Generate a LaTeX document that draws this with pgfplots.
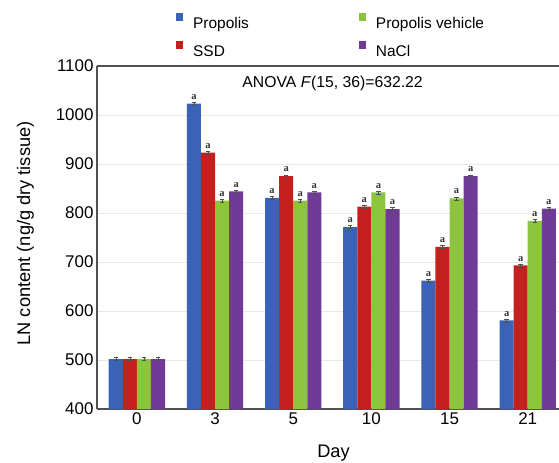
\documentclass[border=0pt]{standalone}
\usepackage{fontspec}
\setmainfont{Liberation Sans}
\newfontfamily\serifbold{Liberation Serif}
\usepackage{pgfplots}
\usepackage{pgfplotstable}
\pgfplotsset{compat=1.18}
\definecolor{cblue}{HTML}{3A63B8}
\definecolor{cred}{HTML}{C4201E}
\definecolor{cgreen}{HTML}{8CC43C}
\definecolor{cpurple}{HTML}{6F3B96}
\definecolor{axisgray}{HTML}{505050}

\pgfplotstableread[col sep=comma,row sep=\\]{
x,y,e,m\\
0,502,3,\\
1,1023,3,a\\
2,831,3,a\\
3,771,3,a\\
4,662,3,a\\
5,581,3,a\\
}\propolis
\pgfplotstableread[col sep=comma,row sep=\\]{
x,y,e,m\\
0,502,3,\\
1,923,3,a\\
2,875,3,a\\
3,813,3,a\\
4,731,3,a\\
5,693,3,a\\
}\ssd
\pgfplotstableread[col sep=comma,row sep=\\]{
x,y,e,m\\
0,502,3,\\
1,825,3,a\\
2,825,3,a\\
3,842,3,a\\
4,830,3,a\\
5,784,3,a\\
}\vehicle
\pgfplotstableread[col sep=comma,row sep=\\]{
x,y,e,m\\
0,502,3,\\
1,844,3,a\\
2,842,3,a\\
3,808,3,a\\
4,875,3,a\\
5,809,3,a\\
}\nacl

\begin{document}
\begin{tikzpicture}
\begin{axis}[
  scale only axis,
  width=462bp, height=343bp,
  xmin=-0.51, xmax=5.4,
  ymin=400, ymax=1100,
  ytick={400,500,...,1100},
  xtick={0,1,2,3,4,5},
  xticklabels={0,3,5,10,15,21},
  major tick length=0pt,
  axis x line=box,
  axis y line=left,
  axis line style={axisgray, line width=1.3bp, -},
  ymajorgrids,
  grid style={gray!18, line width=0.8bp},
  ybar=0pt,
  bar width=0.18,
  /pgf/number format/.cd, 1000 sep={}, assume math mode=true,
  /pgfplots/.cd,
  ticklabel style={font=\fontsize{17}{20}\selectfont},
  label style={font=\fontsize{18.3}{22}\selectfont},
  xlabel={Day},
  ylabel={LN content (ng/g dry tissue)},
  xlabel style={at={(axis description cs:0.512,-0.142)}, anchor=base},
  ylabel style={at={(axis description cs:-0.145,0.512)}, anchor=base, rotate=0},
  legend style={
    at={(axis description cs:0,1)}, anchor=north west,
    xshift=79bp, yshift=53bp,
    draw=none, fill=none,
    font=\fontsize{15.5}{18}\selectfont,
    inner sep=0pt,
    row sep=9bp,
    /tikz/every even column/.append style={column sep=108bp},
  },
  legend columns=2,
  transpose legend,
  legend cell align=left,
  legend image code/.code={\fill[#1] (0bp,2.5bp) rectangle (7bp,10.5bp); \path (15bp,5bp);},
  error bars/y dir=both,
  error bars/y explicit,
  error bars/error bar style={axisgray, line width=0.5bp},
  error bars/error mark options={rotate=90, mark size=2.2bp, axisgray, line width=0.5bp},
  point meta=explicit symbolic,
  nodes near coords,
  nodes near coords style={anchor=south, inner sep=0pt, yshift=4bp, font=\serifbold\bfseries\fontsize{10.5}{11}\selectfont, text=black!80},
  clip=false,
]
\addplot[fill=cblue, draw=none] table[x=x, y=y, y error=e, meta=m] {\propolis};
\addlegendentry{Propolis}
\addplot[fill=cred, draw=none] table[x=x, y=y, y error=e, meta=m] {\ssd};
\addlegendentry{SSD}
\addplot[fill=cgreen, draw=none] table[x=x, y=y, y error=e, meta=m] {\vehicle};
\addlegendentry{Propolis vehicle}
\addplot[fill=cpurple, draw=none] table[x=x, y=y, y error=e, meta=m] {\nacl};
\addlegendentry{NaCl}
\node[font=\fontsize{15.8}{19}\selectfont, anchor=center] at (axis description cs:0.51,0.950) {ANOVA \textit{F}(15, 36)=632.22};
\end{axis}
\pgfresetboundingbox
\path (current axis.south west) ++(-97bp,-54bp) coordinate (bbsw);
\path (current axis.north east) ++(0bp,66bp) coordinate (bbne);
\path (bbsw) rectangle (bbne);
\end{tikzpicture}
\end{document}
